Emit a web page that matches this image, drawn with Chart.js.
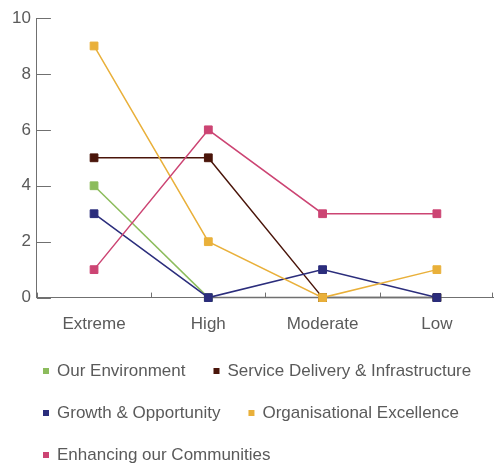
<!DOCTYPE html>
<html>
<head>
<meta charset="utf-8">
<script src="https://cdn.jsdelivr.net/npm/chart.js@4"></script>
<style>
  html, body { margin: 0; padding: 0; background: #ffffff; }
  #wrap { width: 494px; height: 469px; }
</style>
</head>
<body>
<div id="wrap"><canvas id="chart" width="494" height="469"></canvas></div>
<script>
// Risk counts per rating, one list per strategic theme
const categories = ['Extreme', 'High', 'Moderate', 'Low'];
const seriesNames = [
  'Our Environment',
  'Service Delivery & Infrastructure',
  'Growth & Opportunity',
  'Organisational Excellence',
  'Enhancing our Communities'
];
const ourEnvironment = [4, 0, 0, 0];
const serviceDelivery = [5, 5, 0, 0];
const growthOpportunity = [3, 0, 1, 0];
const organisationalExcellence = [9, 2, 0, 1];
const enhancingCommunities = [1, 6, 3, 3];
const yTicks = [0, 2, 4, 6, 8, 10];

const seriesColors = ['#8cbc5c', '#4a150a', '#2b2d7c', '#e9b03a', '#cc4473'];
const AXIS = '#707070';
const TEXT = '#5a5a5a';
const FONT = '"Liberation Sans", Arial, sans-serif';

const seriesData = [ourEnvironment, serviceDelivery, growthOpportunity, organisationalExcellence, enhancingCommunities];

const datasets = seriesData.map((values, i) => ({
  label: seriesNames[i],
  data: values,
  borderColor: seriesColors[i],
  backgroundColor: seriesColors[i],
  pointBackgroundColor: seriesColors[i],
  pointBorderColor: seriesColors[i],
  pointStyle: 'rect',
  pointRadius: 5.5,
  pointBorderWidth: 1,
  borderWidth: 1.5,
  tension: 0,
  clip: false,
  // runs lying along the baseline blend into the axis
  segment: {
    borderColor: (c) => (c.p0.parsed.y === 0 && c.p1.parsed.y === 0) ? AXIS : undefined
  },
  // later themes sit on top of earlier ones
  order: seriesData.length - 1 - i
}));

// short tick marks drawn inward from both axes
const innerTicks = {
  id: 'innerTicks',
  beforeDatasetsDraw(chart) {
    const { ctx, chartArea: a, scales: { x, y } } = chart;
    ctx.save();
    ctx.strokeStyle = AXIS;
    ctx.lineWidth = 1;
    ctx.beginPath();
    y.ticks.forEach((t, i) => {
      const py = Math.round(y.getPixelForTick(i)) + 0.5;
      ctx.moveTo(a.left, py);
      ctx.lineTo(a.left + 14, py);
    });
    for (let i = 0; i <= categories.length; i++) {
      const px = Math.min(Math.round(x.getPixelForValue(i - 0.5)), a.right - 2) + 0.5;
      ctx.moveTo(px, a.bottom);
      ctx.lineTo(px, a.bottom - 5);
    }
    ctx.stroke();
    ctx.restore();
  }
};

// legend laid out left-aligned, wrapping onto new rows
const flowLegend = {
  id: 'flowLegend',
  afterDraw(chart) {
    const { ctx } = chart;
    const x0 = 43, rowGap = 42, box = 6, textGap = 8, itemGap = 28;
    const y0 = chart.height - 98;
    ctx.save();
    ctx.font = '17px ' + FONT;
    ctx.textBaseline = 'middle';
    ctx.textAlign = 'left';
    let x = x0, y = y0;
    chart.data.datasets.forEach((ds) => {
      const w = box + textGap + ctx.measureText(ds.label).width;
      if (x > x0 && x + w > chart.width) {
        x = x0;
        y += rowGap;
      }
      ctx.fillStyle = ds.borderColor;
      ctx.fillRect(x, Math.round(y) - 3, box, box);
      ctx.fillStyle = TEXT;
      ctx.fillText(ds.label, x + box + textGap, y);
      x += w + itemGap;
    });
    ctx.restore();
  }
};

new Chart(document.getElementById('chart'), {
  type: 'line',
  data: { labels: categories, datasets },
  options: {
    responsive: false,
    animation: false,
    events: [],
    layout: { autoPadding: false, padding: { left: 6, right: 0, top: 18, bottom: 117 } },
    plugins: {
      legend: { display: false },
      tooltip: { enabled: false }
    },
    scales: {
      x: {
        offset: true,
        grid: { display: true, drawOnChartArea: false, drawTicks: false, offset: true },
        border: { display: true, color: AXIS, width: 1 },
        ticks: { color: TEXT, font: { family: FONT, size: 17 }, padding: 17, maxRotation: 0 }
      },
      y: {
        min: 0,
        max: 10,
        afterBuildTicks(scale) { scale.ticks = yTicks.map(v => ({ value: v })); },
        grid: { display: true, drawOnChartArea: false, drawTicks: false },
        border: { display: true, color: AXIS, width: 1 },
        ticks: { color: TEXT, font: { family: FONT, size: 17 }, padding: 6 }
      }
    }
  },
  plugins: [innerTicks, flowLegend]
});
</script>
</body>
</html>
